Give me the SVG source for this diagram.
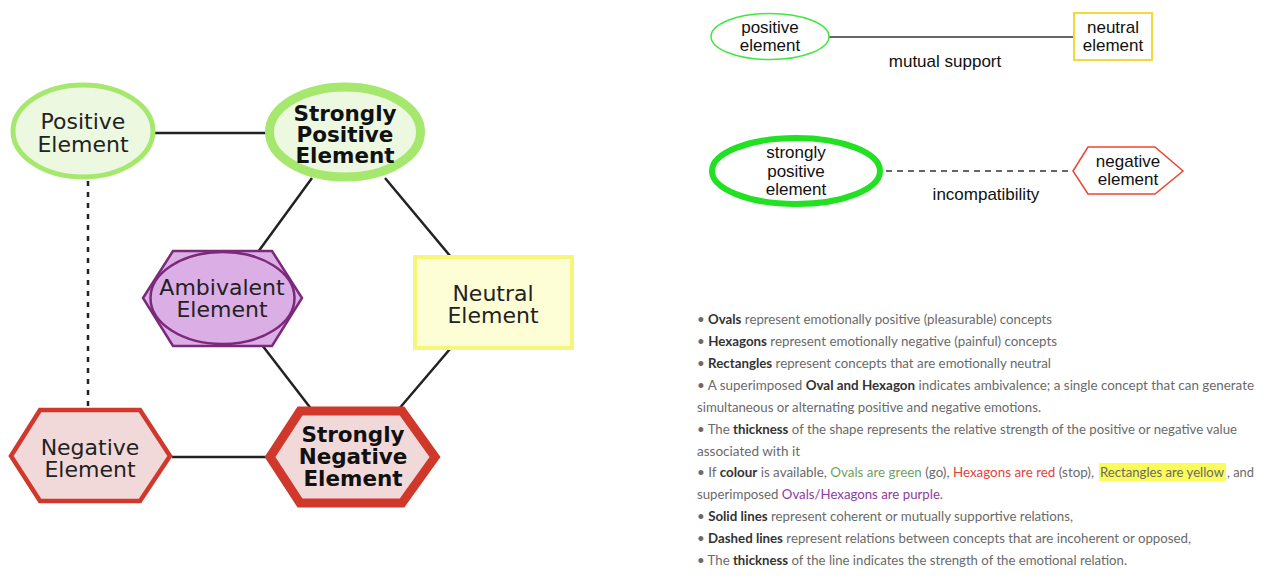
<svg xmlns="http://www.w3.org/2000/svg" width="1274" height="583" viewBox="0 0 1274 583">
<style>
.lbl{font-family:"DejaVu Sans",Verdana,sans-serif;font-size:22px;fill:#222;text-anchor:middle}
.bold{font-weight:bold;fill:#111;font-size:21.5px}
.pos{fill:#ecf8e0;stroke:#a6e86e}
.neg{fill:#f2d9d9;stroke:#d0382c}
.amb{fill:#dcaee6;stroke:#7b2a7a;stroke-width:2.5}
.edge{stroke:#222;stroke-width:2.5;fill:none}
.lg{font-family:"Liberation Sans",Arial,sans-serif;font-size:17px;fill:#111;text-anchor:middle}
.lgedge{stroke:#333;stroke-width:1.5;fill:none}
.b{font-family:Lato,"Liberation Sans",sans-serif;font-size:14px;fill:#6a6a6a}
.b .k{font-weight:bold;fill:#333}
.green{fill:#6f9f5f}
.red{fill:#e8403a}
.purple{fill:#8e3aa0}
</style>
<rect width="1274" height="583" fill="#fff"/>

<g id="connectors">
  <line class="edge" x1="155" y1="133" x2="267" y2="133"/>
  <line class="edge" x1="312" y1="178" x2="258" y2="252"/>
  <line class="edge" x1="385" y1="178" x2="451" y2="257"/>
  <line class="edge" x1="262" y1="345" x2="312" y2="410"/>
  <line class="edge" x1="450" y1="349" x2="398" y2="410"/>
  <line class="edge" x1="172" y1="457" x2="270" y2="457"/>
  <line class="edge" x1="88" y1="181" x2="88" y2="408" stroke-width="3.5" stroke-dasharray="5 6"/>
  <line class="lgedge" x1="829" y1="37" x2="1074" y2="37"/>
  <line class="lgedge" x1="886" y1="171" x2="1073" y2="171" stroke-dasharray="6 5"/>
</g>

<g id="positive-element">
  <ellipse class="pos" cx="83" cy="131" rx="70" ry="46" stroke-width="5"/>
  <text class="lbl" x="83" y="129">Positive</text>
  <text class="lbl" x="83" y="152">Element</text>
</g>
<g id="strongly-positive-element">
  <ellipse class="pos" cx="345" cy="132" rx="75.5" ry="45" stroke-width="9"/>
  <text class="lbl bold" x="345" y="121">Strongly</text>
  <text class="lbl bold" x="345" y="142">Positive</text>
  <text class="lbl bold" x="345" y="163">Element</text>
</g>
<g id="ambivalent-element">
  <polygon class="amb" points="143,298 173,251 272,251 302,298 272,346 173,346"/>
  <ellipse class="amb" cx="222.5" cy="298" rx="72" ry="46" stroke-width="2"/>
  <text class="lbl" x="222" y="295">Ambivalent</text>
  <text class="lbl" x="222" y="317">Element</text>
</g>
<g id="neutral-element">
  <rect x="415" y="257" width="157" height="91" fill="#fdfdd6" stroke="#f6f67a" stroke-width="4"/>
  <text class="lbl" x="493" y="301">Neutral</text>
  <text class="lbl" x="493" y="323">Element</text>
</g>
<g id="negative-element">
  <polygon class="neg" points="11,456 40,410 140,410 170,456 140,501 40,501" stroke-width="4.5"/>
  <text class="lbl" x="90" y="455">Negative</text>
  <text class="lbl" x="90" y="477">Element</text>
</g>
<g id="strongly-negative-element">
  <polygon class="neg" points="270,457 300,411 402,411 435,457 402,503 300,503" stroke-width="9"/>
  <text class="lbl bold" x="353" y="442">Strongly</text>
  <text class="lbl bold" x="353" y="464">Negative</text>
  <text class="lbl bold" x="353" y="486">Element</text>
</g>

<g id="legend-positive">
  <ellipse cx="770" cy="36.5" rx="59" ry="23" fill="#fff" stroke="#3fe83f" stroke-width="1.5"/>
  <text class="lg" x="770" y="33">positive</text>
  <text class="lg" x="770" y="51">element</text>
</g>
<g id="legend-neutral">
  <rect x="1074" y="13" width="78" height="47" fill="#fff" stroke="#f5d83a" stroke-width="2"/>
  <text class="lg" x="1113" y="33">neutral</text>
  <text class="lg" x="1113" y="51">element</text>
</g>
<text class="lg" x="945" y="67">mutual support</text>
<g id="legend-strongly-positive">
  <ellipse cx="796" cy="171" rx="84" ry="33" fill="#fff" stroke="#22e022" stroke-width="6"/>
  <text class="lg" x="796" y="158">strongly</text>
  <text class="lg" x="796" y="177">positive</text>
  <text class="lg" x="796" y="195">element</text>
</g>
<g id="legend-negative">
  <polygon points="1073,171 1088,147 1155,147 1183,171 1155,194 1088,194" fill="#fff" stroke="#ee4433" stroke-width="1.5"/>
  <text class="lg" x="1128" y="167">negative</text>
  <text class="lg" x="1128" y="185">element</text>
</g>
<text class="lg" x="986" y="200">incompatibility</text>

<g id="notes">
  <rect x="1099" y="463" width="127" height="18" fill="#fbfb5a"/>
  <text class="b" x="697" y="324" textLength="355" lengthAdjust="spacingAndGlyphs">• <tspan class="k">Ovals</tspan> represent emotionally positive (pleasurable) concepts</text>
  <text class="b" x="697" y="346" textLength="360" lengthAdjust="spacingAndGlyphs">• <tspan class="k">Hexagons</tspan> represent emotionally negative (painful) concepts</text>
  <text class="b" x="697" y="368" textLength="354" lengthAdjust="spacingAndGlyphs">• <tspan class="k">Rectangles</tspan> represent concepts that are emotionally neutral</text>
  <text class="b" x="697" y="390" textLength="557" lengthAdjust="spacingAndGlyphs">• A superimposed <tspan class="k">Oval and Hexagon</tspan> indicates ambivalence; a single concept that can generate</text>
  <text class="b" x="697" y="412" textLength="344" lengthAdjust="spacingAndGlyphs">simultaneous or alternating positive and negative emotions.</text>
  <text class="b" x="697" y="434" textLength="540" lengthAdjust="spacingAndGlyphs">• The <tspan class="k">thickness</tspan> of the shape represents the relative strength of the positive or negative value</text>
  <text class="b" x="697" y="456" textLength="103" lengthAdjust="spacingAndGlyphs">associated with it</text>
  <text class="b" x="697" y="477" textLength="397" lengthAdjust="spacingAndGlyphs">• If <tspan class="k">colour</tspan> is available, <tspan class="green">Ovals are green</tspan> (go), <tspan class="red">Hexagons are red</tspan> (stop),</text>
  <text class="b" x="1100" y="477" textLength="124" lengthAdjust="spacingAndGlyphs">Rectangles are yellow</text>
  <text class="b" x="1227" y="477" textLength="27" lengthAdjust="spacingAndGlyphs">, and</text>
  <text class="b" x="697" y="499" textLength="246" lengthAdjust="spacingAndGlyphs">superimposed <tspan class="purple">Ovals/Hexagons are purple</tspan>.</text>
  <text class="b" x="697" y="521" textLength="376" lengthAdjust="spacingAndGlyphs">• <tspan class="k">Solid lines</tspan> represent coherent or mutually supportive relations,</text>
  <text class="b" x="697" y="543" textLength="494" lengthAdjust="spacingAndGlyphs">• <tspan class="k">Dashed lines</tspan> represent relations between concepts that are incoherent or opposed,</text>
  <text class="b" x="697" y="565" textLength="430" lengthAdjust="spacingAndGlyphs">• The <tspan class="k">thickness</tspan> of the line indicates the strength of the emotional relation.</text>
</g>
</svg>
